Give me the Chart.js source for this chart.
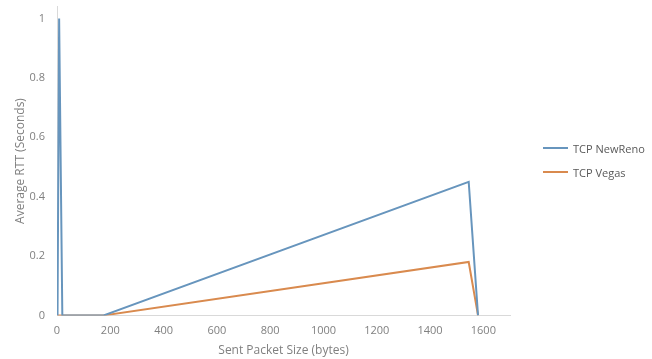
<!DOCTYPE html>
<html>
<head>
<meta charset="utf-8">
<script src="https://cdn.jsdelivr.net/npm/chart.js@4"></script>
<style>
  html, body { margin: 0; padding: 0; background: #fff; }
  #wrap { position: relative; width: 652px; height: 359px; }
  #legend { position: absolute; left: 543px; top: 140px; font-family: "Open Sans"; font-size: 11px; color: #595959; }
  #legend .item { display: flex; align-items: center; height: 16px; margin-bottom: 8px; white-space: nowrap; }
  #legend .swatch { display: inline-block; width: 25px; height: 2px; margin-right: 5px; }
</style>
</head>
<body>
<div id="wrap">
  <canvas id="chart" width="652" height="359"></canvas>
  <div id="legend"></div>
</div>
<script>
// packet sizes (bytes) and average RTT (seconds)
const packetSizes = [2, 8, 20, 175, 1545, 1580];
const newRenoRtt = [0, 1, 0, 0, 0.45, 0];
const vegasRtt = [0, 0, 0, 0, 0.18, 0];
const xTicks = [0, 200, 400, 600, 800, 1000, 1200, 1400, 1600];
const yTicks = [0, 0.2, 0.4, 0.6, 0.8, 1];

const toPoints = (ys) => packetSizes.map((x, i) => ({ x: x, y: ys[i] }));

const grey = "#808080";
const font = { family: "Open Sans", size: 11 };

const ctx = document.getElementById("chart").getContext("2d");
const myChart = new Chart(ctx, {
  type: "scatter",
  data: {
    datasets: [
      {
        label: "TCP NewReno",
        data: toPoints(newRenoRtt),
        showLine: true,
        borderColor: "#6795BD",
        backgroundColor: "#6795BD",
        borderWidth: 2,
        pointRadius: 0,
        tension: 0,
      },
      {
        label: "TCP Vegas",
        data: toPoints(vegasRtt),
        showLine: true,
        borderColor: "#D98A4E",
        backgroundColor: "#D98A4E",
        borderWidth: 2,
        pointRadius: 0,
        tension: 0,
      },
    ],
  },
  options: {
    responsive: false,
    animation: false,
    // room on the right for the html legend
    layout: { padding: { top: 0, right: 142, left: 0, bottom: 1 } },
    plugins: {
      tooltip: { enabled: false },
      legend: { display: false },
    },
    scales: {
      x: {
        type: "linear",
        min: 0,
        max: 1700,
        afterBuildTicks: (scale) => {
          scale.ticks = xTicks.map((v) => ({ value: v }));
        },
        grid: { display: false },
        border: { display: true, color: "#d9d9d9", width: 1 },
        ticks: { color: grey, font: font, padding: 1, callback: (v) => String(v) },
        title: {
          display: true,
          text: "Sent Packet Size (bytes)",
          color: grey,
          font: { family: "Open Sans", size: 12 },
          padding: { top: 5, bottom: 0 },
        },
      },
      y: {
        min: 0,
        max: 1.04,
        afterBuildTicks: (scale) => {
          scale.ticks = yTicks.map((v) => ({ value: v }));
        },
        afterFit: (scale) => {
          scale.width = 57;
        },
        grid: { display: false, tickLength: 12 },
        border: { display: true, color: "#d9d9d9", width: 1 },
        ticks: { color: grey, font: font, padding: 0, callback: (v) => String(v) },
        title: {
          display: true,
          text: "Average RTT (Seconds)",
          color: grey,
          font: { family: "Open Sans", size: 12 },
          padding: { top: 13, bottom: 0 },
        },
      },
    },
  },
});

// legend built from the datasets
const legendEl = document.getElementById("legend");
myChart.data.datasets.forEach((ds) => {
  const item = document.createElement("div");
  item.className = "item";
  const swatch = document.createElement("span");
  swatch.className = "swatch";
  swatch.style.background = ds.borderColor;
  const label = document.createElement("span");
  label.textContent = ds.label;
  item.appendChild(swatch);
  item.appendChild(label);
  legendEl.appendChild(item);
});
</script>
</body>
</html>
